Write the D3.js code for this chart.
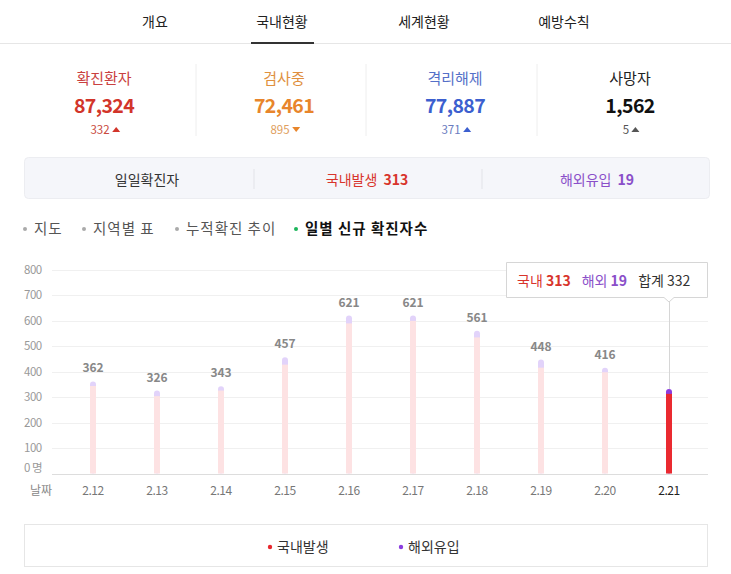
<!DOCTYPE html>
<html>
<head>
<meta charset="utf-8">
<script src="https://cdn.jsdelivr.net/npm/d3@7"></script>
<style>
  body { margin: 0; background: #fff; }
  svg text { font-family: "Noto Sans CJK KR", "Noto Sans", sans-serif; }
</style>
</head>
<body>
<div id="chart"></div>
<script>
// data
var tabs = ["개요", "국내현황", "세계현황", "예방수칙"];
var statLabels = ["확진환자", "검사중", "격리해제", "사망자"];
var statValues = [87324, 72461, 77887, 1562];
var statDeltas = [332, 895, 371, 5];
var statUp = [true, false, true, true];
var navItems = ["지도", "지역별 표", "누적확진 추이", "일별 신규 확진자수"];
var dates = ["2.12", "2.13", "2.14", "2.15", "2.16", "2.17", "2.18", "2.19", "2.20", "2.21"];
var domestic = [344, 304, 326, 428, 590, 600, 535, 416, 398, 313];
var overseas = [18, 22, 17, 29, 31, 21, 26, 32, 18, 19];
var yTicks = [0, 100, 200, 300, 400, 500, 600, 700, 800];

var w = 731, h = 574;
var statColors = ["#d2352a", "#e8852b", "#3c5fcf", "#111"];
var titleColors = ["#c94040", "#e0903e", "#5570c8", "#222"];
var deltaColors = ["#c94a40", "#e0a060", "#6a7cc0", "#555"];
var fmt = d3.format(",");

var svg = d3.select("#chart").append("svg")
    .attr("width", w).attr("height", h);

// top tabs
var tabX = [155, 282, 424, 564];
svg.append("line").attr("x1", 0).attr("x2", w).attr("y1", 43.5).attr("y2", 43.5)
    .attr("stroke", "#e6e6e6");
svg.selectAll(".tab").data(tabs).enter().append("text")
    .attr("x", (d, i) => tabX[i]).attr("y", 27)
    .attr("text-anchor", "middle").attr("font-size", 14).attr("fill", "#222")
    .text(d => d);
svg.append("line").attr("x1", 251).attr("x2", 314).attr("y1", 43).attr("y2", 43)
    .attr("stroke", "#333").attr("stroke-width", 2);

// stats row
var statX = [104, 284, 455, 630];
[196, 366, 537].forEach(function(x) {
    svg.append("line").attr("x1", x).attr("x2", x).attr("y1", 64).attr("y2", 136)
        .attr("stroke", "#eee");
});
var st = svg.selectAll(".stat").data(statLabels).enter().append("g")
    .attr("transform", (d, i) => "translate(" + statX[i] + ",0)");
st.append("text").attr("y", 84).attr("text-anchor", "middle").attr("font-size", 15)
    .attr("fill", (d, i) => titleColors[i]).text(d => d);
st.append("text").attr("y", 113).attr("text-anchor", "middle").attr("font-size", 19.5)
    .attr("letter-spacing", -0.6)
    .attr("font-weight", "bold").attr("fill", (d, i) => statColors[i])
    .text((d, i) => fmt(statValues[i]));
st.append("text").attr("x", -4).attr("y", 134).attr("text-anchor", "middle").attr("font-size", 11.5)
    .attr("fill", (d, i) => deltaColors[i]).text((d, i) => statDeltas[i]);
st.append("path")
    .attr("transform", function(d, i) {
        var tw = String(statDeltas[i]).length * 3.4;
        return "translate(" + (tw + 2) + "," + 130 + ")";
    })
    .attr("d", (d, i) => statUp[i] ? "M-4,2L4,2L0,-3Z" : "M-4,-3L4,-3L0,2Z")
    .attr("fill", (d, i) => statColors[i] === "#111" ? "#555" : statColors[i]);

// daily box
svg.append("rect").attr("x", 24.5).attr("y", 157.5).attr("width", 685).attr("height", 41)
    .attr("rx", 4).attr("fill", "#f5f6fa").attr("stroke", "#ecedf1");
[254, 482].forEach(function(x) {
    svg.append("line").attr("x1", x).attr("x2", x).attr("y1", 169).attr("y2", 189)
        .attr("stroke", "#e2e3e8");
});
svg.append("text").attr("x", 147).attr("y", 185).attr("text-anchor", "middle")
    .attr("font-size", 14).attr("fill", "#333").text("일일확진자");
var dTot = domestic[domestic.length - 1], oTot = overseas[overseas.length - 1];
var t1 = svg.append("text").attr("x", 367).attr("y", 185).attr("text-anchor", "middle")
    .attr("font-size", 14).attr("fill", "#d8342c");
t1.append("tspan").text("국내발생 ");
t1.append("tspan").attr("font-weight", "bold").attr("dx", 3).text(dTot);
var t2 = svg.append("text").attr("x", 597).attr("y", 185).attr("text-anchor", "middle")
    .attr("font-size", 14).attr("fill", "#8a4fc9");
t2.append("tspan").text("해외유입 ");
t2.append("tspan").attr("font-weight", "bold").attr("dx", 3).text(oTot);

// nav items
var navX = [25, 84, 177, 296];
navItems.forEach(function(n, i) {
    var last = i === navItems.length - 1;
    svg.append("circle").attr("cx", navX[i]).attr("cy", 229).attr("r", 2)
        .attr("fill", last ? "#1cb55a" : "#aaa");
    svg.append("text").attr("x", navX[i] + 9).attr("y", 234).attr("font-size", 14.5)
        .attr("letter-spacing", 1)
        .attr("font-weight", last ? "bold" : "normal")
        .attr("fill", last ? "#111" : "#555").text(n);
});

// chart
var y = d3.scaleLinear().domain([0, 800]).range([473.5, 270]);
var x = d3.scaleBand().domain(dates).range([61, 701]);

svg.selectAll(".grid").data(yTicks).enter().append("line")
    .attr("x1", 52).attr("x2", 708)
    .attr("y1", d => Math.round(y(d)) + 0.5).attr("y2", d => Math.round(y(d)) + 0.5)
    .attr("stroke", d => d === 0 ? "#ddd" : "#f0f0f0");
svg.selectAll(".ytick").data(yTicks).enter().append("text")
    .attr("x", 24).attr("y", d => d === 0 ? y(d) - 2 : y(d) + 4)
    .attr("font-size", 11.5).attr("fill", "#999").attr("letter-spacing", -0.5)
    .text(d => d === 0 ? "0 명" : d);

svg.append("text").attr("x", 30).attr("y", 495).attr("font-size", 12)
    .attr("fill", "#888").text("날짜");
svg.selectAll(".xtick").data(dates).enter().append("text")
    .attr("x", d => x(d) + x.bandwidth() / 2).attr("y", 495)
    .attr("text-anchor", "middle").attr("font-size", 12).attr("letter-spacing", -0.5)
    .attr("fill", (d, i) => i === dates.length - 1 ? "#222" : "#777")
    .text(d => d);

var bw = 6;
var active = dates.length - 1;
var bars = svg.selectAll(".bar").data(dates).enter().append("g")
    .attr("transform", d => "translate(" + (x(d) + x.bandwidth() / 2 - bw / 2) + ",0)");
// overseas on top (drawn full height from total, then domestic over it)
bars.append("rect")
    .attr("width", bw).attr("rx", 3)
    .attr("y", (d, i) => y(domestic[i] + overseas[i]))
    .attr("height", (d, i) => y(0) - y(domestic[i] + overseas[i]))
    .attr("fill", (d, i) => i === active ? "#8b3ddf" : "#e2d3fa");
bars.append("rect")
    .attr("width", bw)
    .attr("y", (d, i) => y(domestic[i]))
    .attr("height", (d, i) => y(0) - y(domestic[i]))
    .attr("fill", (d, i) => i === active ? "#ea2a30" : "#fde2e3");
bars.filter((d, i) => i !== active).append("text")
    .attr("x", bw / 2).attr("y", (d, i) => y(domestic[i] + overseas[i]) - 9)
    .attr("text-anchor", "middle").attr("font-size", 12).attr("font-weight", "bold")
    .attr("fill", "#888")
    .text((d, i) => domestic[i] + overseas[i]);

// tooltip
var tx = x(dates[active]) + x.bandwidth() / 2;
var topY = y(domestic[active] + overseas[active]);
svg.append("line").attr("x1", tx + 0.5).attr("x2", tx + 0.5).attr("y1", 297).attr("y2", topY)
    .attr("stroke", "#d6d6d6");
svg.append("path")
    .attr("d", "M506.5,262.5H707.5V297.5H" + (tx + 5) + "L" + tx + ",302L" + (tx - 5) + ",297.5H506.5Z")
    .attr("fill", "#fff").attr("stroke", "#d6d6d6").attr("stroke-linejoin", "round");
var tt = svg.append("text").attr("x", 517).attr("y", 285.5).attr("font-size", 14);
tt.append("tspan").attr("fill", "#d8342c").text("국내 ");
tt.append("tspan").attr("fill", "#d8342c").attr("font-weight", "bold").text(domestic[active]);
tt.append("tspan").attr("fill", "#8a4fc9").attr("dx", 11).text("해외 ");
tt.append("tspan").attr("fill", "#8a4fc9").attr("font-weight", "bold").text(overseas[active]);
tt.append("tspan").attr("fill", "#333").attr("dx", 11).text("합계 ");
tt.append("tspan").attr("fill", "#333").text(domestic[active] + overseas[active]);

// legend
svg.append("rect").attr("x", 24.5).attr("y", 524.5).attr("width", 683).attr("height", 42)
    .attr("fill", "#fff").attr("stroke", "#e6e6e6");
var legend = [["국내발생", "#e8282e", 270], ["해외유입", "#8b3ddf", 401]];
legend.forEach(function(l) {
    svg.append("circle").attr("cx", l[2]).attr("cy", 547).attr("r", 2.2).attr("fill", l[1]);
    svg.append("text").attr("x", l[2] + 7).attr("y", 552).attr("font-size", 14)
        .attr("fill", "#333").text(l[0]);
});
</script>
</body>
</html>
